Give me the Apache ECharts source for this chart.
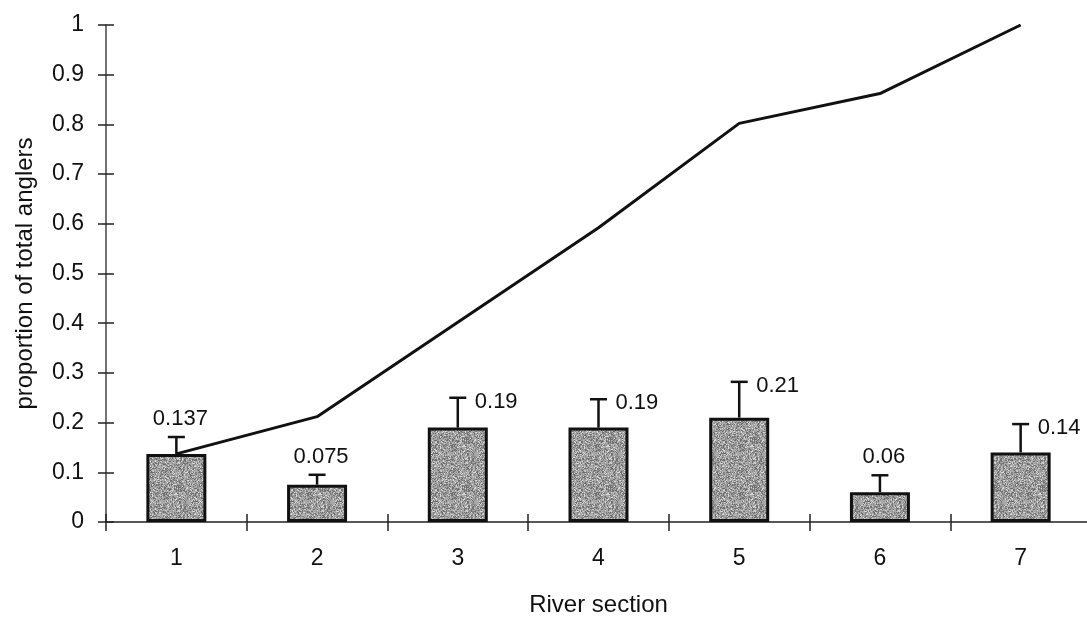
<!DOCTYPE html>
<html>
<head>
<meta charset="utf-8">
<script src="https://cdn.jsdelivr.net/npm/echarts@6/dist/echarts.min.js"></script>
<style>
  html, body { margin: 0; padding: 0; background: #fff; }
  #chart { width: 1087px; height: 618px; }
</style>
</head>
<body>
<div id="chart"></div>
<script>
// river sections on the x axis
const sections = ['1', '2', '3', '4', '5', '6', '7']
// bar heights (proportion of anglers per section)
const proportion = [0.137, 0.075, 0.19, 0.19, 0.21, 0.06, 0.14]
// upper end of each error bar
const errorTop = [0.171, 0.095, 0.25, 0.247, 0.282, 0.094, 0.197]
// cumulative proportion line
const cumulative = [0.137, 0.212, 0.402, 0.592, 0.802, 0.862, 1.0]
// printed value labels and where they sit
const valueLabels = ['0.137', '0.075', '0.19', '0.19', '0.21', '0.06', '0.14']
const labelSide = ['top', 'top', 'right', 'right', 'right', 'top', 'right']

const FONT = "'Liberation Sans', Arial, sans-serif"

// grey speckled fill like the scanned bars (fixed pseudo-noise, not data)
function makeSpeckle() {
  const c = document.createElement('canvas')
  c.width = 48; c.height = 48
  const ctx = c.getContext('2d')
  const img = ctx.createImageData(48, 48)
  let s = 12345
  for (let i = 0; i < 48 * 48; i++) {
    s = (s * 1103515245 + 12345) & 0x7fffffff
    const r = (s >> 8) % 100
    let g = 168
    if (r < 22) g = 110
    else if (r < 40) g = 140
    else if (r > 85) g = 215
    img.data[i * 4] = g
    img.data[i * 4 + 1] = g
    img.data[i * 4 + 2] = g
    img.data[i * 4 + 3] = 255
  }
  ctx.putImageData(img, 0, 0)
  return c
}

const chart = echarts.init(document.getElementById('chart'))

const errData = sections.map((_, i) => [i, proportion[i], errorTop[i]])

function renderError(params, api) {
  const i = api.value(0)
  const base = api.coord([i, api.value(1)])
  const top = api.coord([i, api.value(2)])
  const x = base[0]
  const capHalf = 8.5
  const side = labelSide[i]
  const label = side === 'top'
    ? { type: 'text', style: { text: valueLabels[i], x: x + 4, y: top[1] - 7, align: 'center', verticalAlign: 'bottom', fontSize: 22, fontFamily: FONT, fill: '#111' } }
    : { type: 'text', style: { text: valueLabels[i], x: x + 17, y: top[1] + 4, align: 'left', verticalAlign: 'middle', fontSize: 22, fontFamily: FONT, fill: '#111' } }
  return {
    type: 'group',
    children: [
      { type: 'line', shape: { x1: x, y1: base[1], x2: x, y2: top[1] }, style: { stroke: '#111', lineWidth: 2.5 } },
      { type: 'line', shape: { x1: x - capHalf, y1: top[1], x2: x + capHalf, y2: top[1] }, style: { stroke: '#111', lineWidth: 2.5 } },
      label
    ]
  }
}

const yCommon = { type: 'value', min: 0, max: 1, interval: 0.1, position: 'left', splitLine: { show: false } }
const xCommon = { type: 'category', data: sections, position: 'bottom', boundaryGap: true }

chart.setOption({
  animation: false,
  backgroundColor: '#fff',
  grid: { left: 106, top: 25, width: 985, height: 497, outerBoundsMode: 'none' },
  xAxis: [
    {
      ...xCommon,
      name: 'River section',
      nameLocation: 'middle',
      nameGap: 71,
      nameTextStyle: { fontSize: 24, fontFamily: FONT, color: '#111' },
      axisLine: { lineStyle: { color: '#222', width: 1.5 } },
      axisTick: { show: true, inside: false, length: 9, lineStyle: { color: '#222', width: 1.5 } },
      axisLabel: { fontSize: 23, fontFamily: FONT, color: '#111', margin: 25 }
    },
    {
      ...xCommon,
      axisLine: { show: false },
      axisTick: { show: true, inside: true, length: 8, lineStyle: { color: '#222', width: 1.5 } },
      axisLabel: { show: false }
    }
  ],
  yAxis: [
    {
      ...yCommon,
      name: 'proportion of total anglers',
      nameLocation: 'middle',
      nameGap: 69,
      nameRotate: 90,
      nameTextStyle: { fontSize: 24, fontFamily: FONT, color: '#111' },
      axisLine: { show: true, lineStyle: { color: '#444', width: 1.5 } },
      axisTick: { show: true, inside: false, length: 8, lineStyle: { color: '#222', width: 1.5 } },
      axisLabel: { fontSize: 23, fontFamily: FONT, color: '#111', margin: 22 }
    },
    {
      ...yCommon,
      axisLine: { show: false },
      axisTick: { show: true, inside: true, length: 8, lineStyle: { color: '#222', width: 1.5 } },
      axisLabel: { show: false }
    }
  ],
  series: [
    {
      type: 'bar',
      data: proportion,
      barWidth: 60,
      itemStyle: {
        color: { image: makeSpeckle(), repeat: 'repeat' },
        borderColor: '#111',
        borderWidth: 3
      },
      z: 2
    },
    {
      type: 'line',
      data: cumulative,
      symbol: 'none',
      lineStyle: { color: '#111', width: 3 },
      z: 4
    },
    {
      type: 'custom',
      data: errData,
      encode: { x: 0, y: 2 },
      renderItem: renderError,
      z: 3
    }
  ]
})
</script>
</body>
</html>
